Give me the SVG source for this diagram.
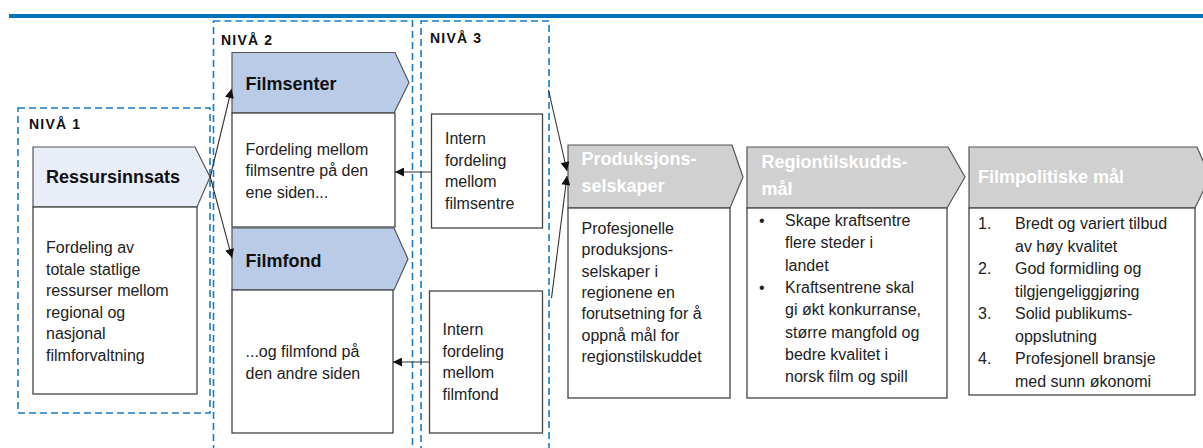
<svg xmlns="http://www.w3.org/2000/svg" width="1203" height="448" viewBox="0 0 1203 448">
<defs>
<style>
.lvl{fill:none;stroke:#1b7bc4;stroke-width:1.6;stroke-dasharray:7 4}
.lbl{font-family:"Liberation Sans",Arial,sans-serif;font-weight:bold;font-size:14px;letter-spacing:1.2px;fill:#111}
.hd{stroke:#555;stroke-width:1.2}
.hl{fill:#e9edf7}
.hb{fill:#b9cbe7}
.hg{fill:#d0d0d0}
.bx{fill:#fff;stroke:#444;stroke-width:1.3}
.t{font-family:"Liberation Sans",Arial,sans-serif;font-size:16px;fill:#222}
.tb{font-family:"Liberation Sans",Arial,sans-serif;font-size:18px;font-weight:bold;fill:#111}
.tw{font-family:"Liberation Sans",Arial,sans-serif;font-size:18px;font-weight:bold;fill:#fff}
.cn{stroke:#333;stroke-width:1.1;fill:none;marker-end:url(#ah)}
</style>
<marker id="ah" viewBox="0 0 10 10" refX="10" refY="5" markerWidth="10" markerHeight="9" markerUnits="userSpaceOnUse" orient="auto">
<path d="M0,0 L10,5 L0,10 Z" fill="#111"/>
</marker>
</defs>
<rect x="0" y="0" width="1203" height="448" fill="#fff"/>
<rect x="9" y="14" width="1194" height="4" fill="#0072bb"/>

<g id="levels">
<rect class="lvl" x="18" y="108" width="192" height="305"/>
<rect class="lvl" x="213.5" y="21" width="199" height="440"/>
<rect class="lvl" x="421" y="21" width="128" height="440"/>
<text class="lbl" x="29" y="129">NIVÅ 1</text>
<text class="lbl" x="221" y="45">NIVÅ 2</text>
<text class="lbl" x="430" y="43">NIVÅ 3</text>
</g>

<g id="ressursinnsats">
<path class="hd hl" d="M33,147 L195,147 L210,177 L197,207 L33,207 Z"/>
<rect class="bx" x="33" y="207" width="164" height="187"/>
<text class="tb" x="46" y="183">Ressursinnsats</text>
<text class="t" x="46" y="253">Fordeling av</text>
<text class="t" x="46" y="274.5">totale statlige</text>
<text class="t" x="46" y="296">ressurser mellom</text>
<text class="t" x="46" y="317.5">regional og</text>
<text class="t" x="46" y="339">nasjonal</text>
<text class="t" x="46" y="360.5">filmforvaltning</text>
</g>

<g id="filmsenter">
<path class="hd hb" d="M232,52.5 L395,52.5 L409,82.5 L394,113 L232,113 Z"/>
<rect class="bx" x="232" y="113" width="163" height="114"/>
<text class="tb" x="245.5" y="90">Filmsenter</text>
<text class="t" x="245.5" y="155">Fordeling mellom</text>
<text class="t" x="245.5" y="176">filmsentre på den</text>
<text class="t" x="245.5" y="197.5">ene siden...</text>
</g>

<g id="filmfond">
<path class="hd hb" d="M232,228 L394,228 L408,259 L394,290 L232,290 Z"/>
<rect class="bx" x="232" y="290" width="161" height="143"/>
<text class="tb" x="245.5" y="266.5">Filmfond</text>
<text class="t" x="245.5" y="357">...og filmfond på</text>
<text class="t" x="245.5" y="378.5">den andre siden</text>
</g>

<g id="intern-filmsentre">
<rect class="bx" x="431.5" y="114" width="111" height="114"/>
<text class="t" x="445" y="144">Intern</text>
<text class="t" x="445" y="165.5">fordeling</text>
<text class="t" x="445" y="187">mellom</text>
<text class="t" x="445" y="208.5">filmsentre</text>
</g>

<g id="intern-filmfond">
<rect class="bx" x="429.5" y="291" width="113" height="142"/>
<text class="t" x="442.5" y="335">Intern</text>
<text class="t" x="442.5" y="356.5">fordeling</text>
<text class="t" x="442.5" y="378">mellom</text>
<text class="t" x="442.5" y="399.5">filmfond</text>
</g>

<g id="produksjonsselskaper">
<path class="hd hg" d="M568,145 L732,145 L743,177 L730,208 L568,208 Z"/>
<rect class="bx" x="568" y="208" width="162" height="190"/>
<text class="tw" x="581.5" y="165">Produksjons-</text>
<text class="tw" x="581.5" y="192">selskaper</text>
<text class="t" x="581.5" y="234">Profesjonelle</text>
<text class="t" x="581.5" y="255.3">produksjons-</text>
<text class="t" x="581.5" y="276.6">selskaper i</text>
<text class="t" x="581.5" y="297.9">regionene en</text>
<text class="t" x="581.5" y="319.2">forutsetning for å</text>
<text class="t" x="581.5" y="340.5">oppnå mål for</text>
<text class="t" x="581.5" y="361.8">regionstilskuddet</text>
</g>

<g id="regiontilskuddsmal">
<path class="hd hg" d="M747,147 L948,147 L965,177 L947,208 L747,208 Z"/>
<rect class="bx" x="747" y="208" width="200" height="190"/>
<text class="tw" x="761.5" y="167.5">Regiontilskudds-</text>
<text class="tw" x="761.5" y="195">mål</text>
<text class="t" x="759" y="226">•</text>
<text class="t" x="785" y="226">Skape kraftsentre</text>
<text class="t" x="785" y="248.3">flere steder i</text>
<text class="t" x="785" y="270.6">landet</text>
<text class="t" x="759" y="292.9">•</text>
<text class="t" x="785" y="292.9">Kraftsentrene skal</text>
<text class="t" x="785" y="315.2">gi økt konkurranse,</text>
<text class="t" x="785" y="337.5">større mangfold og</text>
<text class="t" x="785" y="359.8">bedre kvalitet i</text>
<text class="t" x="785" y="382.1">norsk film og spill</text>
</g>

<g id="filmpolitiske-mal">
<path class="hd hg" d="M969,147 L1197,147 L1210,177 L1195,208 L969,208 Z"/>
<rect class="bx" x="969" y="208" width="226" height="187"/>
<text class="tw" x="978" y="183">Filmpolitiske mål</text>
<text class="t" x="978" y="229">1.</text>
<text class="t" x="1015" y="229">Bredt og variert tilbud</text>
<text class="t" x="1015" y="251.5">av høy kvalitet</text>
<text class="t" x="978" y="274">2.</text>
<text class="t" x="1015" y="274">God formidling og</text>
<text class="t" x="1015" y="296.5">tilgjengeliggjøring</text>
<text class="t" x="978" y="319">3.</text>
<text class="t" x="1015" y="319">Solid publikums-</text>
<text class="t" x="1015" y="341.5">oppslutning</text>
<text class="t" x="978" y="364">4.</text>
<text class="t" x="1015" y="364">Profesjonell bransje</text>
<text class="t" x="1015" y="386.5">med sunn økonomi</text>
</g>

<g id="connectors">
<path class="cn" d="M210,178 L231.5,89"/>
<path class="cn" d="M210,176 L232,258"/>
<path class="cn" d="M431.5,172 L395,172"/>
<path class="cn" d="M429.5,362 L393,362"/>
<path class="cn" d="M548.5,90 L567,171"/>
<path class="cn" d="M551.5,298 L567,176"/>
</g>
</svg>
